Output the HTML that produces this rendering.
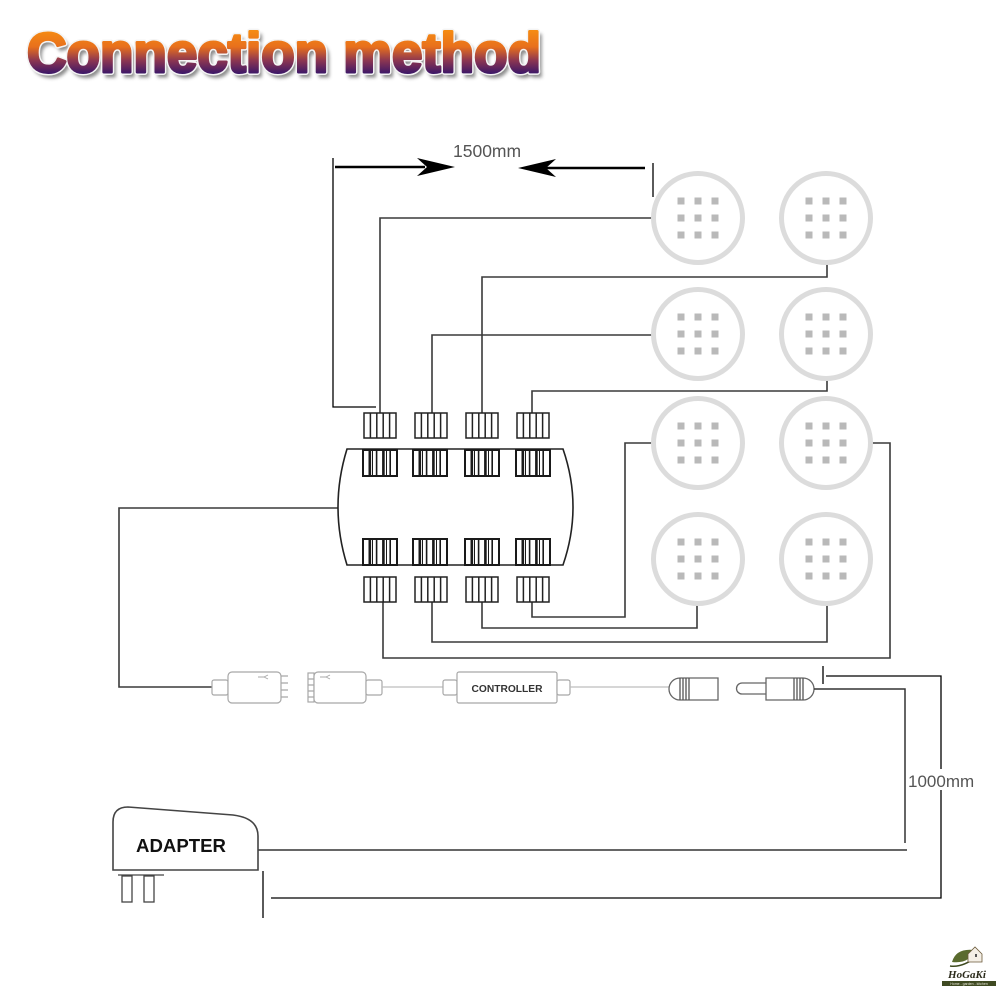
<!DOCTYPE html>
<html><head><meta charset="utf-8"><style>
html,body{margin:0;padding:0;background:#fff;}
svg{display:block;}
</style></head><body>
<svg width="1000" height="1000" viewBox="0 0 1000 1000" xmlns="http://www.w3.org/2000/svg">
<defs>
<linearGradient id="tg" x1="0" y1="30" x2="0" y2="74" gradientUnits="userSpaceOnUse">
<stop offset="0" stop-color="#f68c12"/>
<stop offset="0.38" stop-color="#e8701c"/>
<stop offset="0.7" stop-color="#8a3552"/>
<stop offset="1" stop-color="#3a1668"/>
</linearGradient>
<filter id="blur" x="-5%" y="-30%" width="110%" height="160%"><feGaussianBlur stdDeviation="1.8"/></filter>
<g id="lamp">
 <circle r="44.5" fill="#fff" stroke="#dcdcdc" stroke-width="5"/>
 <g fill="#b9b9b9">
  <rect x="-20.5" y="-20.5" width="7" height="7"/><rect x="-3.5" y="-20.5" width="7" height="7"/><rect x="13.5" y="-20.5" width="7" height="7"/>
  <rect x="-20.5" y="-3.5" width="7" height="7"/><rect x="-3.5" y="-3.5" width="7" height="7"/><rect x="13.5" y="-3.5" width="7" height="7"/>
  <rect x="-20.5" y="13.5" width="7" height="7"/><rect x="-3.5" y="13.5" width="7" height="7"/><rect x="13.5" y="13.5" width="7" height="7"/>
 </g>
</g>
<g id="co" fill="#fff" stroke="#222" stroke-width="1.5">
 <rect x="0" y="0" width="32" height="25"/>
 <path d="M6.4,0V25M12.8,0V25M19.2,0V25M25.6,0V25" fill="none"/>
</g>
<g id="ci" fill="#fff" stroke="#1a1a1a">
 <rect x="0" y="0" width="34" height="26" stroke-width="2"/>
 <path d="M6.8,0V26M20.4,0V26" fill="none" stroke-width="2.6"/>
 <path d="M13.6,0V26M27.2,0V26" fill="none" stroke-width="1.6"/>
 <path d="M9.5,0V26M23.5,0V26" fill="none" stroke-width="1"/>
</g>
</defs>

<!-- Title -->
<text x="30" y="76" font-family="Liberation Sans, Arial, sans-serif" font-weight="bold" font-size="56" textLength="514" lengthAdjust="spacingAndGlyphs" fill="#777" stroke="#777" stroke-width="3" filter="url(#blur)" opacity="0.85">Connection method</text>
<text x="27" y="72" font-family="Liberation Sans, Arial, sans-serif" font-weight="bold" font-size="56" textLength="514" lengthAdjust="spacingAndGlyphs" fill="#fff" stroke="#f4f4f4" stroke-width="6" stroke-linejoin="round">Connection method</text>
<text x="27" y="72" font-family="Liberation Sans, Arial, sans-serif" font-weight="bold" font-size="56" textLength="514" lengthAdjust="spacingAndGlyphs" fill="url(#tg)" stroke="url(#tg)" stroke-width="3" stroke-linejoin="round">Connection method</text>

<!-- 1500mm dimension -->
<text x="453" y="157" font-family="Liberation Sans, Arial, sans-serif" font-size="17.5" fill="#555">1500mm</text>
<line x1="335" y1="167" x2="425" y2="167" stroke="#000" stroke-width="2.5"/>
<path d="M455,167 L417,158 L427,167 L417,176 Z" fill="#000"/>
<line x1="545" y1="168" x2="645" y2="168" stroke="#000" stroke-width="2.5"/>
<path d="M518,168 L556,159 L546,168 L556,177 Z" fill="#000"/>
<path d="M333,158 V407 H376" fill="none" stroke="#000" stroke-width="1.3"/>
<line x1="653" y1="163" x2="653" y2="197" stroke="#000" stroke-width="1.3"/>

<!-- lamp wires -->
<g fill="none" stroke="#3a3a3a" stroke-width="1.6">
 <path d="M652,218 H380 V413"/>
 <path d="M827,264 V277 H482 V413"/>
 <path d="M652,335 H432 V413"/>
 <path d="M827,379 V391 H532 V413"/>
 <path d="M652,443 H625 V617 H532 V602"/>
 <path d="M872,443 H890 V658 H383 V602"/>
 <path d="M697,605 V628 H482 V602"/>
 <path d="M827,605 V642 H432 V602"/>
 <path d="M338,508 H119 V687 H212"/>
</g>

<!-- lamps -->
<use href="#lamp" x="698" y="218"/>
<use href="#lamp" x="826" y="218"/>
<use href="#lamp" x="698" y="334"/>
<use href="#lamp" x="826" y="334"/>
<use href="#lamp" x="698" y="443"/>
<use href="#lamp" x="826" y="443"/>
<use href="#lamp" x="698" y="559"/>
<use href="#lamp" x="826" y="559"/>

<!-- hub -->
<g fill="none" stroke="#222" stroke-width="1.6">
 <path d="M347,449 H563 Q583,507 563,565 H347 Q329,507 347,449 Z" fill="#fff"/>
</g>
<use href="#co" x="364" y="413"/>
<use href="#co" x="415" y="413"/>
<use href="#co" x="466" y="413"/>
<use href="#co" x="517" y="413"/>
<use href="#ci" x="363" y="450"/>
<use href="#ci" x="413" y="450"/>
<use href="#ci" x="465" y="450"/>
<use href="#ci" x="516" y="450"/>
<use href="#ci" x="363" y="539"/>
<use href="#ci" x="413" y="539"/>
<use href="#ci" x="465" y="539"/>
<use href="#ci" x="516" y="539"/>
<use href="#co" x="364" y="577"/>
<use href="#co" x="415" y="577"/>
<use href="#co" x="466" y="577"/>
<use href="#co" x="517" y="577"/>

<!-- controller row -->
<g fill="#fff" stroke="#a8a8a8" stroke-width="1.2">
 <rect x="212" y="680" width="16" height="15" rx="2"/>
 <rect x="228" y="672" width="53" height="31" rx="4"/>
 <path d="M281,676 H288 M281,683 H288 M281,690 H288 M281,697 H288" fill="none"/>
 <path d="M258,677 H264 M264,677 l4,-2 M264,677 l4,2" fill="none" stroke-width="0.9"/>
 <rect x="308" y="673" width="6" height="29"/>
 <path d="M308,679 H314 M308,685 H314 M308,691 H314 M308,697 H314" fill="none"/>
 <rect x="314" y="672" width="52" height="31" rx="4"/>
 <path d="M320,677 H326 M326,677 l4,-2 M326,677 l4,2" fill="none" stroke-width="0.9"/>
 <rect x="366" y="680" width="16" height="15" rx="2"/>
 <line x1="382" y1="687" x2="443" y2="687" stroke="#bdbdbd"/>
 <rect x="443" y="680" width="14" height="15" rx="2"/>
 <rect x="457" y="672" width="100" height="31" rx="2"/>
 <rect x="557" y="680" width="13" height="15" rx="2"/>
 <line x1="570" y1="687" x2="669" y2="687" stroke="#bdbdbd"/>
</g>
<text x="507" y="692" text-anchor="middle" font-family="Liberation Sans, Arial, sans-serif" font-size="10.5" font-weight="bold" fill="#333" textLength="71" lengthAdjust="spacingAndGlyphs">CONTROLLER</text>

<!-- plugs -->
<g fill="#fff" stroke="#666" stroke-width="1.3">
 <path d="M680,678 H718 V700 H680 A11,11 0 0 1 680,678 Z"/>
 <path d="M680,678 V700 M683,678 V700 M686,678 V700 M689,678 V700" fill="none" stroke="#555"/>
 <path d="M766,683 H742 A5.5,5.5 0 0 0 742,694 H766"/>
 <path d="M766,678 H803 A11,11 0 0 1 803,700 H766 Z"/>
 <path d="M794,678 V700 M797,678 V700 M800,678 V700 M803,678 V700" fill="none" stroke="#555"/>
</g>

<!-- adapter wiring -->
<g fill="none" stroke="#333" stroke-width="1.5">
 <path d="M814,689 H905 V843"/>
 <path d="M258,850 H907"/>
</g>
<g fill="none" stroke="#000" stroke-width="1.3">
 <path d="M823,666 V684"/>
 <path d="M826,676 H941 V898 H271"/>
 <path d="M263,871 V918"/>
</g>
<rect x="910" y="769" width="66" height="21" fill="#fff"/>
<text x="908" y="787" font-family="Liberation Sans, Arial, sans-serif" font-size="17" fill="#555">1000mm</text>

<!-- adapter -->
<path d="M113,870 V822 Q113,807 128,807 L233,815 Q258,818 258,836 V870 Z" fill="#fff" stroke="#444" stroke-width="1.6"/>
<text x="136" y="852" font-family="Liberation Sans, Arial, sans-serif" font-size="18" font-weight="bold" fill="#111" textLength="90" lengthAdjust="spacingAndGlyphs">ADAPTER</text>
<g fill="#fff" stroke="#444" stroke-width="1.3">
 <line x1="118" y1="875" x2="164" y2="875"/>
 <rect x="122" y="876" width="10" height="26"/>
 <rect x="144" y="876" width="10" height="26"/>
</g>

<!-- logo -->
<g>
 <path d="M952,962 Q956,948 974,950 Q970,964 952,962 Z" fill="#5a6b2e"/>
 <path d="M950,966 Q962,968 978,956" fill="none" stroke="#3e4a1f" stroke-width="1.5"/>
 <path d="M968,954 L975,947 L982,954 V962 H968 Z" fill="#f4efe6" stroke="#6b5a3a" stroke-width="0.8"/>
 <rect x="975" y="954" width="2" height="3" fill="#555"/>
 <text x="967" y="978" text-anchor="middle" font-family="Liberation Serif, serif" font-style="italic" font-weight="bold" font-size="11" fill="#2a2a1a">HoGaKi</text>
 <rect x="942" y="981" width="54" height="5" fill="#3f4a22"/>
 <text x="969" y="985" text-anchor="middle" font-family="Liberation Sans, sans-serif" font-size="3.5" fill="#e8e8d8">Home - garden - kitchen</text>
</g>
</svg>
</body></html>
